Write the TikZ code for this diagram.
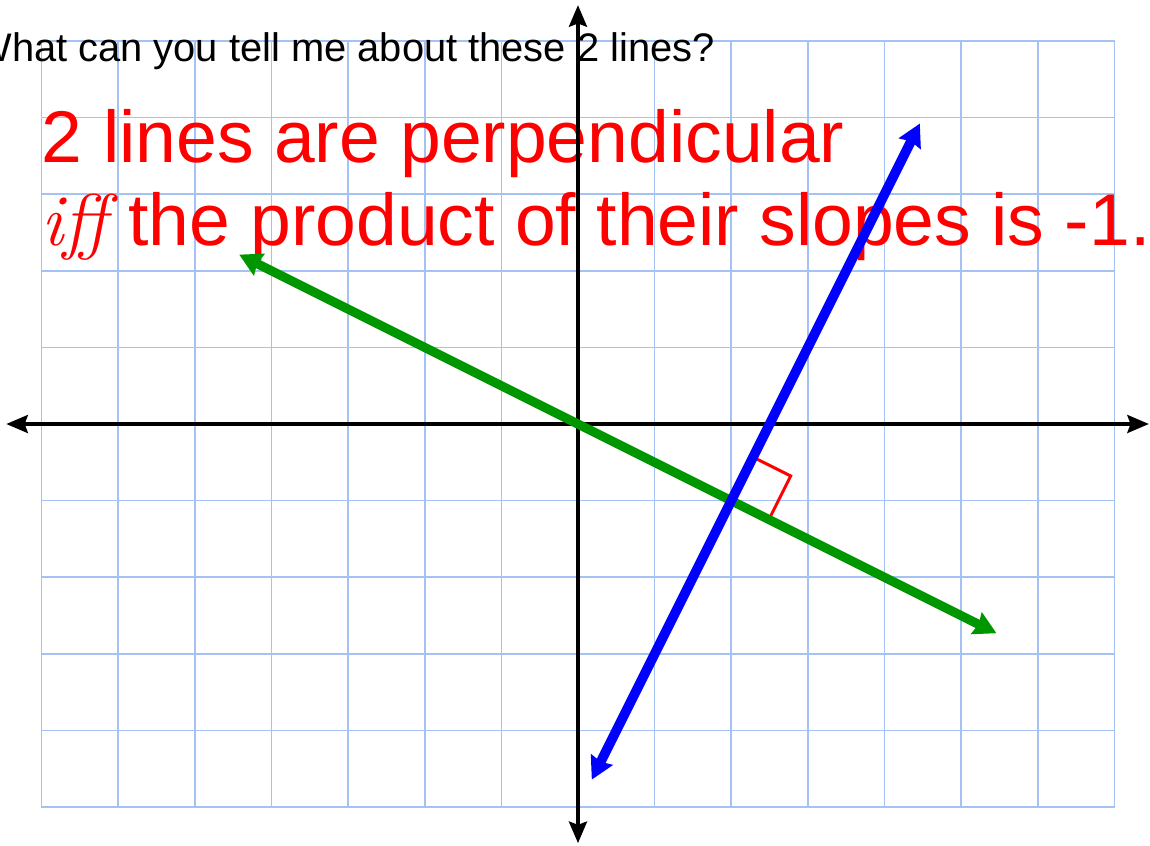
\documentclass[tikz,border=0pt]{standalone}
\usepackage{fontspec}
\newfontfamily\arialfont{Liberation Sans}
\usepackage{tikz}
\usetikzlibrary{arrows.meta, positioning}
\definecolor{gridblue}{RGB}{164,194,244}
\definecolor{linegreen}{RGB}{0,150,0}

\begin{document}
\begin{tikzpicture}[
    >=Stealth,
    gridline/.style={draw=gridblue, line width=0.6pt},
    axis/.style={line width=1.7pt,
      {Stealth[length=0.28cm, width=0.23cm, inset=0.04cm]}-{Stealth[length=0.28cm, width=0.23cm, inset=0.04cm]}},
    graphline/.style={line width=3.4pt,
      {Stealth[length=0.29cm, width=0.31cm, inset=0.03cm]}-{Stealth[length=0.29cm, width=0.31cm, inset=0.03cm]}},
    question/.style={font=\arialfont\fontsize{14.8}{17}\selectfont, inner sep=0pt, anchor=base east},
    rule/.style={font=\arialfont\fontsize{27.2}{31}\selectfont, text=red, inner sep=0pt, anchor=base west}
  ]

  \useasboundingbox (-7.541,-5.493) rectangle (7.463,5.532);

  \draw[gridline] (-7,-5) grid (7,5);

  \node[question] (ask) at (1.79,4.727) {What can you tell me about these 2 lines?};

  \node[rule] (ruletop) at (-7,3.41) {2 lines are perpendicular};
  \node[rule, below=1.076cm of ruletop.base west, anchor=base west] (rulebot)
    {{\rmfamily\itshape iff} the product of their slopes is -1.};

  \coordinate (xl) at (-7.46,0);
  \coordinate (xr) at (7.45,0);
  \coordinate (yb) at (0,-5.47);
  \coordinate (yt) at (0,5.466);
  \draw[axis] (xl) -- (xr);
  \draw[axis] (yb) -- (yt);

  \coordinate (gA) at (-4.42,2.21);
  \coordinate (gB) at (5.46,-2.73);
  \coordinate (bA) at (0.18,-4.64);
  \coordinate (bB) at (4.46,3.92);

  \draw[red, line width=1.1pt] (2.284,-0.432) -- (2.775,-0.678) -- (2.491,-1.246);

  \draw[graphline, linegreen] (gA) -- (gB);
  \draw[graphline, blue, line width=3.6pt] (bA) -- (bB);

\end{tikzpicture}
\end{document}
